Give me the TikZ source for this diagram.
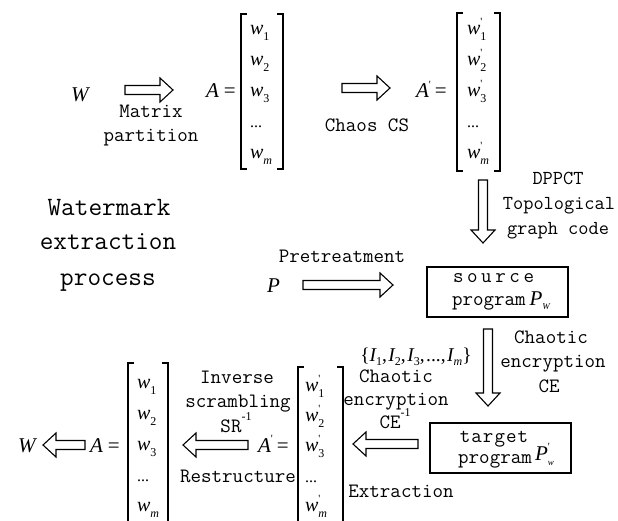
\documentclass[tikz,border=0pt]{standalone}
\usepackage{fontspec}
\usetikzlibrary{calc}
\newfontfamily\mathfnt[Ligatures=TeXOff]{Liberation Serif}

% italic symbol, lowered index, raised prime
\newcommand\mi[1]{{\mathfnt\itshape #1}}
\newcommand\lowidx[1]{\raisebox{-0.3em}{\fontsize{12}{12}\selectfont\mathfnt #1}}
\newcommand\primemark{\raisebox{0.45em}{\fontsize{11}{11}\selectfont\mathfnt '}}
\newcommand\wi[1]{\mi{w}\lowidx{#1}}
\newcommand\wpi[1]{\mi{w}\rlap{\primemark}\lowidx{#1}}
\newcommand\dotsentry{{\fontsize{16}{16}\selectfont\mathfnt ...}}
\newcommand\invsup{\raisebox{0.55em}{\fontsize{12}{12}\selectfont\mathfnt -1}}
\newcommand\setidx[1]{\mi{I}\raisebox{-0.22em}{\fontsize{12}{12}\selectfont\mathfnt #1}}
\newcommand\wideword{s\kern3.6pt o\kern3.6pt u\kern3.6pt r\kern3.6pt c\kern3.6pt e}

% hollow block arrow between two named coordinates
\def\shw{4.5}\def\hhw{12}\def\hl{13}
\newcommand\blockarrow[2]{%
  \draw[arrowline] let \p1=(#1), \p2=(#2),
     \n1={veclen(\x2-\x1,\y2-\y1)}, \n2={(\x2-\x1)/\n1}, \n3={(\y2-\y1)/\n1} in
    ({\x1-\shw*\n3},{\y1+\shw*\n2})
 -- ({\x2-\hl*\n2-\shw*\n3},{\y2-\hl*\n3+\shw*\n2})
 -- ({\x2-\hl*\n2-\hhw*\n3},{\y2-\hl*\n3+\hhw*\n2})
 -- (\p2)
 -- ({\x2-\hl*\n2+\hhw*\n3},{\y2-\hl*\n3-\hhw*\n2})
 -- ({\x2-\hl*\n2+\shw*\n3},{\y2-\hl*\n3-\shw*\n2})
 -- ({\x1+\shw*\n3},{\y1-\shw*\n2}) -- cycle;}

\tikzset{
  every node/.style={inner sep=0pt, outer sep=0pt},
  lbl/.style={font=\ttfamily\fontsize{20.4}{24}\selectfont, anchor=base},
  lblsm/.style={font=\ttfamily\fontsize{19.8}{24}\selectfont, anchor=base},
  title/.style={font=\ttfamily\fontsize{26.5}{30}\selectfont, anchor=base},
  sym/.style={font=\mathfnt\fontsize{21}{24}\selectfont, anchor=base west},
  entry/.style={font=\mathfnt\fontsize{20}{22}\selectfont, anchor=base west},
  matframe/.style={draw=none, rectangle},
  brk/.style={line width=1.2pt},
  arrowline/.style={line width=1.1pt, line join=miter},
  prog/.style={draw, line width=1.2pt, rectangle},
}

\newcommand\brackets[1]{%
  \draw[brk] ([xshift=6pt]#1.north west) -- (#1.north west) -- (#1.south west) -- ([xshift=6pt]#1.south west);
  \draw[brk] ([xshift=-6pt]#1.north east) -- (#1.north east) -- (#1.south east) -- ([xshift=-6pt]#1.south east);}

\begin{document}
\begin{tikzpicture}[x=1pt,y=-1pt]
\useasboundingbox[fill=white] (0,0) rectangle (618,521);

% ---------- top row: W -> A -> A'
\node[sym] (Wtop) at (71,102) {\mi{W}};
\coordinate (a1s) at (125,90); \coordinate (a1e) at (173,90);
\blockarrow{a1s}{a1e}
\node[lbl] (matrix) at (151,118) {Matrix};
\node[lbl] (partition) at (151,142) {partition};

\node[sym] (Aeq) at (206,98) {\mi{A}\kern5pt=};
\node[matframe, minimum width=42pt, minimum height=155pt] (M1) at (262,91.5) {};
\brackets{M1}
\node[entry] (m1r1) at (250,35) {\wi{1}};
\node[entry] (m1r2) at (250,66) {\wi{2}};
\node[entry] (m1r3) at (250,97) {\wi{3}};
\node[entry] (m1r4) at (250,128) {\dotsentry};
\node[entry] (m1r5) at (250,159) {\wi{\itshape m}};

\coordinate (a2s) at (342,88); \coordinate (a2e) at (390,88);
\blockarrow{a2s}{a2e}
\node[lbl] (chaoscs) at (367,132) {Chaos CS};

\node[sym] (Apeq) at (416,98) {\mi{A}\rlap{\primemark}\kern6pt=};
\node[matframe, minimum width=43pt, minimum height=158pt] (M2) at (478.5,92) {};
\brackets{M2}
\node[entry] (m2r1) at (467,35) {\wpi{1}};
\node[entry] (m2r2) at (467,66) {\wpi{2}};
\node[entry] (m2r3) at (467,97) {\wpi{3}};
\node[entry] (m2r4) at (467,128) {\dotsentry};
\node[entry] (m2r5) at (467,159) {\wpi{\itshape m}};

% ---------- embedding into the source program
\coordinate (a3s) at (483,180); \coordinate (a3e) at (483,243);
\blockarrow{a3s}{a3e}
\node[lblsm] (dppct) at (558,185) {DPPCT};
\node[lblsm] (topo) at (559,210) {Topological};
\node[lblsm] (gcode) at (558,235) {graph code};

\node[title] (t1) at (109,216) {Watermark};
\node[title] (t2) at (108,250) {extraction};
\node[title] (t3) at (108,285) {process};

\node[sym] (P) at (267,292) {\mi{P}};
\coordinate (a4s) at (303,285); \coordinate (a4e) at (393,285);
\blockarrow{a4s}{a4e}
\node[lbl] (pretreat) at (342,262) {Pretreatment};

\node[prog, minimum width=141pt, minimum height=50pt] (src) at (497.5,292) {};
\node[lbl, anchor=base west] (src1) at (453,283) {\wideword};
\node[lbl, anchor=base west] (src2) at (452,305) {program\kern4pt\mi{\fontsize{21}{24}\selectfont P}\raisebox{-0.2em}{\fontsize{9}{9}\selectfont\mathfnt\itshape W}};

% ---------- encryption into the target program
\coordinate (a5s) at (488,329); \coordinate (a5e) at (488,406);
\blockarrow{a5s}{a5e}
\node[lbl] (ce1) at (551,343) {Chaotic};
\node[lbl] (ce2) at (553,367) {encryption};
\node[lbl] (ce3) at (549,392) {CE};

\node[font=\mathfnt\fontsize{19.5}{22}\selectfont, anchor=base] (iset) at (416,361)
  {\{\setidx{1},\kern1.5pt\setidx{2},\kern1.5pt\setidx{3},\kern1.5pt...,\kern1.5pt\setidx{\itshape m}\}};

\node[prog, minimum width=141pt, minimum height=50pt] (tgt) at (500.5,448) {};
\node[lbl] (tgt1) at (494,442) {t\kern1pt a\kern1pt r\kern1pt g\kern1pt e\kern1pt t};
\node[lbl] (tgt2) at (495,463) {program};
\node[sym] (Pw) at (535,460) {\mi{P}\rlap{\primemark}\raisebox{-0.25em}{\fontsize{9}{9}\selectfont\mathfnt\itshape w}};

% ---------- decryption / extraction
\coordinate (a6s) at (418,444); \coordinate (a6e) at (353,444);
\blockarrow{a6s}{a6e}
\node[lbl] (cd1) at (396,382) {Chaotic};
\node[lbl] (cd2) at (396,405) {encryption};
\node[lbl] (cd3) at (395,428) {CE\invsup};
\node[lbl] (extr) at (401,497) {Extraction};

\node[sym] (Apeq2) at (258,452) {\mi{A}\rlap{\primemark}\kern6pt=};
\node[matframe, minimum width=45pt, minimum height=161pt] (M3) at (320.5,447.5) {};
\brackets{M3}
\node[entry] (m3r1) at (305,391) {\wpi{1}};
\node[entry] (m3r2) at (305,421) {\wpi{2}};
\node[entry] (m3r3) at (305,451) {\wpi{3}};
\node[entry] (m3r4) at (305,482) {\dotsentry};
\node[entry] (m3r5) at (305,511) {\wpi{\itshape m}};

% ---------- restructuring back to W
\coordinate (a7s) at (248,445); \coordinate (a7e) at (183,445);
\blockarrow{a7s}{a7e}
\node[lbl] (inv1) at (237,383) {Inverse};
\node[lbl] (inv2) at (238,407) {scrambling};
\node[lbl] (inv3) at (236,432) {SR\invsup};
\node[lbl] (restr) at (238,482) {Restructure};

\node[sym] (Aeq2) at (90,452) {\mi{A}\kern5pt=};
\node[matframe, minimum width=40pt, minimum height=163pt] (M4) at (148,444.5) {};
\brackets{M4}
\node[entry] (m4r1) at (137,388) {\wi{1}};
\node[entry] (m4r2) at (137,419) {\wi{2}};
\node[entry] (m4r3) at (137,450) {\wi{3}};
\node[entry] (m4r4) at (137,481) {\dotsentry};
\node[entry] (m4r5) at (137,511) {\wi{\itshape m}};

\coordinate (a8s) at (85,445); \coordinate (a8e) at (43,445);
\blockarrow{a8s}{a8e}
\node[sym] (Wbot) at (18,452) {\mi{W}};
\end{tikzpicture}
\end{document}
